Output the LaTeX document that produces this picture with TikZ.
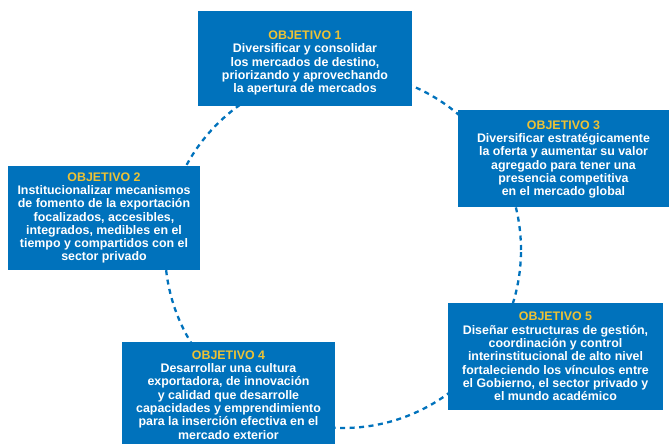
\documentclass[tikz,border=0pt]{standalone}
\usepackage{fontspec}
\setmainfont{Liberation Sans}
\definecolor{objblue}{RGB}{0,114,188}
\definecolor{objyellow}{RGB}{238,194,52}
\begin{document}
\begin{tikzpicture}[x=1pt,y=-1pt,
  objbox/.style={fill=objblue, draw=none, inner sep=0pt},
  objtext/.style={text=white, inner sep=0pt,
    font=\bfseries\fontsize{12.4}{13.3}\selectfont, align=center},
  ring/.style={draw=objblue, line width=2.3pt, dash pattern=on 5pt off 4.5pt}]
\useasboundingbox (0,0) rectangle (669,446);
\node[circle, minimum size=356pt, inner sep=0pt, ring] (ring) at (343,250) {};
\node[objbox, minimum width=214pt, minimum height=95pt] (o1) at (305,58.5) {};
\node[objtext] (t1) at ([yshift=-4.5pt]o1.center)
  {\textcolor{objyellow}{OBJETIVO 1}\\Diversificar y consolidar\\los mercados de destino,\\priorizando y aprovechando\\la apertura de mercados};
\node[objbox, minimum width=192pt, minimum height=104pt] (o2) at (104,218) {};
\node[objtext] (t2) at (o2.center)
  {\textcolor{objyellow}{OBJETIVO 2}\\Institucionalizar mecanismos\\de fomento de la exportación\\focalizados, accesibles,\\integrados, medibles en el\\tiempo y compartidos con el\\sector privado};
\node[objbox, minimum width=211pt, minimum height=97pt] (o3) at (563.5,158.5) {};
\node[objtext] (t3) at ([yshift=-1pt]o3.center)
  {\textcolor{objyellow}{OBJETIVO 3}\\Diversificar estratégicamente\\la oferta y aumentar su valor\\agregado para tener una\\presencia competitiva\\en el mercado global};
\node[objbox, minimum width=213pt, minimum height=102pt] (o4) at (228.5,393) {};
\node[objtext] (t4) at ([yshift=-2pt]o4.center)
  {\textcolor{objyellow}{OBJETIVO 4}\\Desarrollar una cultura\\exportadora, de innovación\\y calidad que desarrolle\\capacidades y emprendimiento\\para la inserción efectiva en el\\mercado exterior};
\node[objbox, minimum width=215pt, minimum height=107pt] (o5) at (555.5,356.5) {};
\node[objtext] (t5) at (o5.center)
  {\textcolor{objyellow}{OBJETIVO 5}\\Diseñar estructuras de gestión,\\coordinación y control\\interinstitucional de alto nivel\\fortaleciendo los vínculos entre\\el Gobierno, el sector privado y\\el mundo académico};
\end{tikzpicture}
\end{document}
